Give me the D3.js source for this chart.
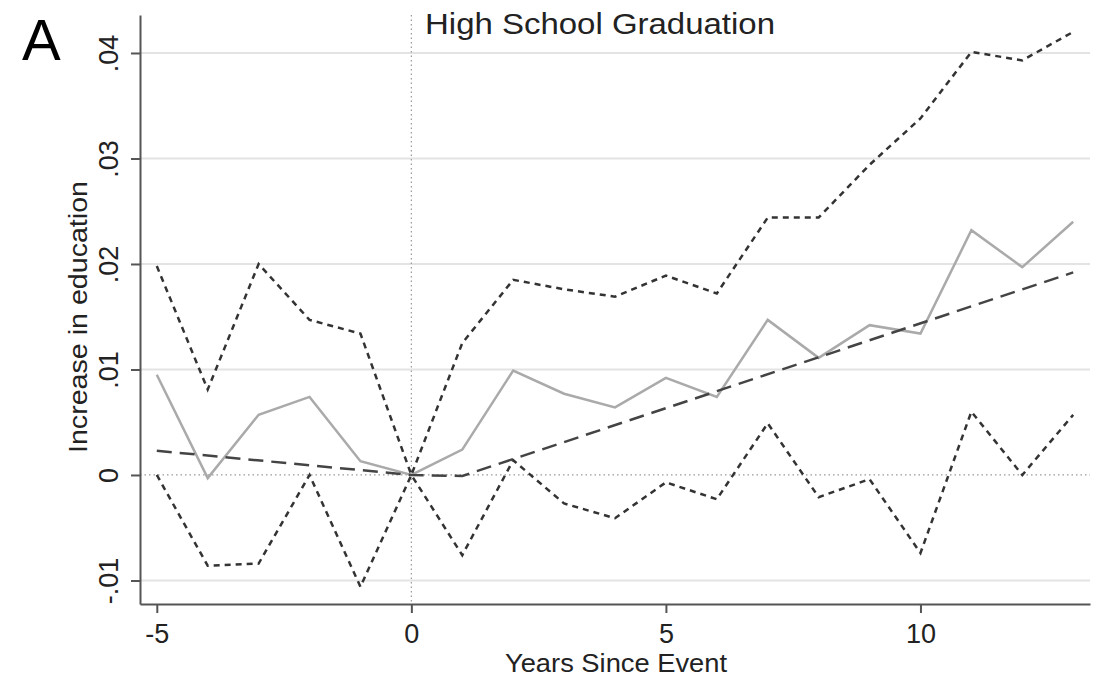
<!DOCTYPE html>
<html>
<head>
<meta charset="utf-8">
<script src="https://cdn.jsdelivr.net/npm/d3@7"></script>
<style>
  html, body { margin: 0; padding: 0; background: #fff; }
  svg { display: block; font-family: "Liberation Sans", Arial, sans-serif; }
</style>
</head>
<body>
<div id="chart"></div>
<script>
// Data
const years = [-5, -4, -3, -2, -1, 0, 1, 2, 3, 4, 5, 6, 7, 8, 9, 10, 11, 12, 13];
const estimate = [0.0095, -0.0003, 0.0057, 0.0074, 0.0013, 0, 0.0024, 0.0099, 0.0077, 0.0064,
                  0.0092, 0.0074, 0.0147, 0.0111, 0.0142, 0.0134, 0.0232, 0.0197, 0.0240];
const upperCI = [0.0198, 0.0081, 0.0200, 0.0147, 0.0134, 0, 0.0125, 0.0185, 0.0176, 0.0169,
                 0.0189, 0.0172, 0.0244, 0.0244, 0.0294, 0.0338, 0.0401, 0.0393, 0.0420];
const lowerCI = [0, -0.0086, -0.0084, 0, -0.0106, 0, -0.0076, 0.0014, -0.0027, -0.0041,
                 -0.0007, -0.0023, 0.0049, -0.0021, -0.0004, -0.0074, 0.0060, 0, 0.0057];
// fitted trend (piecewise linear)
const fitYears = [-5, 0, 1, 13];
const fitValues = [0.0023, 0, -0.0001, 0.0192];

const xTicks = [-5, 0, 5, 10];
const xTickLabels = ['-5', '0', '5', '10'];
const yTicks = [-0.01, 0, 0.01, 0.02, 0.03, 0.04];
const yTickLabels = ['-.01', '0', '.01', '.02', '.03', '.04'];

const width = 1105, height = 680;
const margin = {top: 15, right: 15, bottom: 76, left: 140};
const fontFamily = '"Liberation Sans", Arial, sans-serif';

const svg = d3.select('#chart')
    .append('svg')
    .attr('width', width)
    .attr('height', height);

const x = d3.scaleLinear()
    .domain([-5.33, 13.33])
    .range([margin.left, width - margin.right]);

const y = d3.scaleLinear()
    .domain([-0.01223, 0.0436])
    .range([height - margin.bottom, margin.top]);

// Gridlines
svg.append('g')
    .selectAll('line')
    .data(yTicks.filter(d => d !== 0))
    .enter()
    .append('line')
    .attr('x1', margin.left)
    .attr('x2', width - margin.right)
    .attr('y1', d => y(d))
    .attr('y2', d => y(d))
    .attr('stroke', '#e3e3e3')
    .attr('stroke-width', 2);

// Reference lines (y = 0, x = 0)
svg.append('line')
    .attr('x1', margin.left)
    .attr('x2', width - margin.right)
    .attr('y1', y(0))
    .attr('y2', y(0))
    .attr('stroke', '#999')
    .attr('stroke-width', 1.2)
    .attr('stroke-dasharray', '1.5,3');

svg.append('line')
    .attr('x1', x(0))
    .attr('x2', x(0))
    .attr('y1', margin.top)
    .attr('y2', height - margin.bottom)
    .attr('stroke', '#999')
    .attr('stroke-width', 1.2)
    .attr('stroke-dasharray', '1.5,3');

const line = d3.line()
    .x(d => x(d[0]))
    .y(d => y(d[1]));

// Point estimate
svg.append('path')
    .attr('d', line(years.map((yr, i) => [yr, estimate[i]])))
    .attr('fill', 'none')
    .attr('stroke', '#aaaaaa')
    .attr('stroke-width', 2.5);

// Confidence bands
[upperCI, lowerCI].forEach(series => {
    svg.append('path')
        .attr('d', line(years.map((yr, i) => [yr, series[i]])))
        .attr('fill', 'none')
        .attr('stroke', '#333')
        .attr('stroke-width', 2.5)
        .attr('stroke-dasharray', '6,5');
});

// Fitted trend
svg.append('path')
    .attr('d', line(fitYears.map((yr, i) => [yr, fitValues[i]])))
    .attr('fill', 'none')
    .attr('stroke', '#444')
    .attr('stroke-width', 2.5)
    .attr('stroke-dasharray', '15,8');

// X axis
const xAxis = svg.append('g')
    .attr('transform', `translate(0,${height - margin.bottom})`)
    .call(d3.axisBottom(x).tickValues(xTicks).tickSize(9).tickPadding(11).tickSizeOuter(0)
        .tickFormat((d, i) => xTickLabels[i]));
xAxis.select('.domain').attr('stroke', '#555').attr('stroke-width', 2);
xAxis.selectAll('.tick line').attr('stroke', '#555').attr('stroke-width', 2);
xAxis.selectAll('.tick text')
    .attr('font-size', 27)
    .attr('fill', '#222')
    .attr('font-family', fontFamily);

// Y axis
const yAxis = svg.append('g')
    .attr('transform', `translate(${margin.left},0)`)
    .call(d3.axisLeft(y).tickValues(yTicks).tickSize(9).tickSizeOuter(0)
        .tickFormat((d, i) => yTickLabels[i]));
yAxis.select('.domain').attr('stroke', '#555').attr('stroke-width', 2);
yAxis.selectAll('.tick line').attr('stroke', '#555').attr('stroke-width', 2);
yAxis.selectAll('.tick text')
    .attr('x', null)
    .attr('dy', null)
    .attr('font-size', 27)
    .attr('fill', '#222')
    .attr('font-family', fontFamily)
    .attr('text-anchor', 'middle')
    .attr('transform', 'translate(-22,0) rotate(-90)');

// Axis titles
svg.append('text')
    .attr('x', 616)
    .attr('y', 672)
    .attr('text-anchor', 'middle')
    .attr('font-size', 25)
    .attr('fill', '#222')
    .attr('textLength', 222)
    .attr('lengthAdjust', 'spacingAndGlyphs')
    .text('Years Since Event');

svg.append('text')
    .attr('transform', `translate(87,317) rotate(-90)`)
    .attr('text-anchor', 'middle')
    .attr('font-size', 26)
    .attr('fill', '#222')
    .attr('textLength', 272)
    .attr('lengthAdjust', 'spacingAndGlyphs')
    .text('Increase in education');

// Panel title
svg.append('text')
    .attr('x', 425)
    .attr('y', 34)
    .attr('font-size', 30)
    .attr('fill', '#222')
    .attr('textLength', 350)
    .attr('lengthAdjust', 'spacingAndGlyphs')
    .text('High School Graduation');

svg.append('text')
    .attr('x', 22)
    .attr('y', 60)
    .attr('font-size', 58)
    .attr('fill', '#000')
    .text('A');
</script>
</body>
</html>
